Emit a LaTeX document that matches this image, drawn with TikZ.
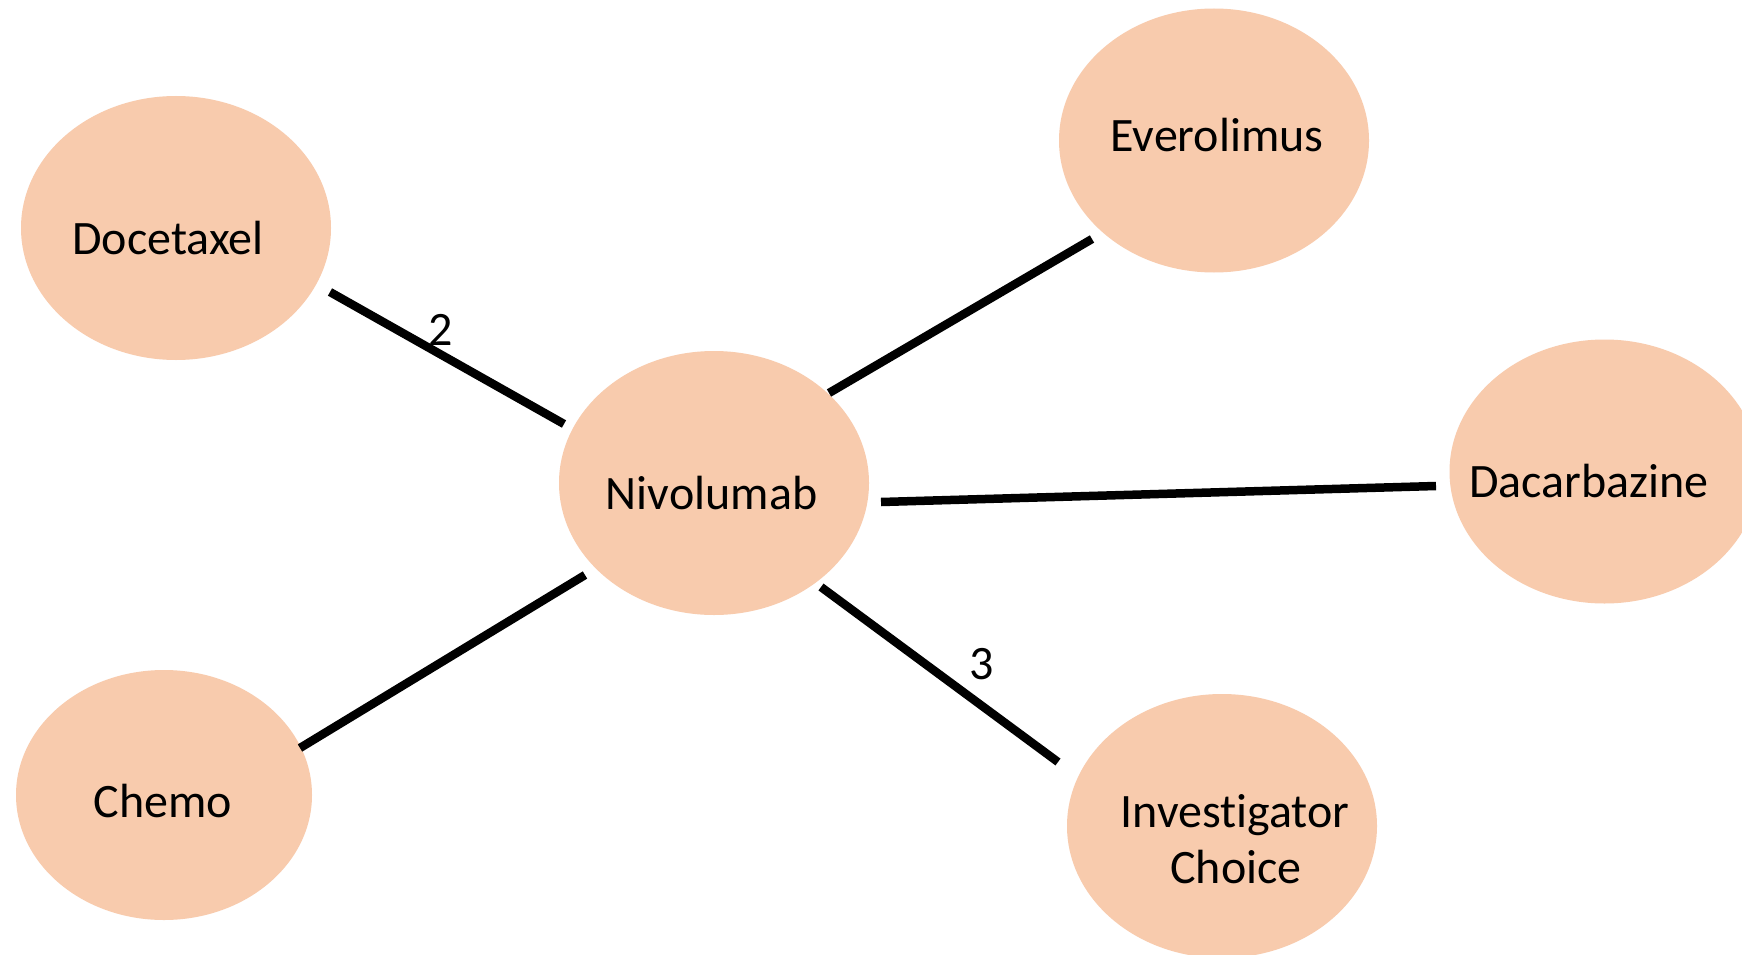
\documentclass[tikz,border=0pt]{standalone}
\usepackage{fontspec}
\setmainfont[Ligatures={NoCommon}]{Carlito}
\usetikzlibrary{shapes.geometric,calc}
\definecolor{peach}{HTML}{F8CBAD}
\tikzset{
  bubble/.style={ellipse, fill=peach, draw=none, inner sep=0pt, minimum width=310pt, minimum height=264pt},
  smallbubble/.style={bubble, minimum width=296pt, minimum height=250pt},
  txt/.style={anchor=base, inner sep=0pt, font=\fontsize{48}{57}\selectfont, text=black},
  conn/.style={line width=8.5pt, black}
}
\begin{document}
\begin{tikzpicture}[x=1pt,y=-1pt]
\useasboundingbox[fill=white] (0,0) rectangle (1742,955);
% ellipses
\node[bubble] (doc) at (176,228) {};
\node[bubble] (eve) at (1214,140.5) {};
\node[bubble] (niv) at (714,483) {};
\node[bubble] (dac) at (1604.5,471.5) {};
\node[smallbubble] (che) at (164,795) {};
\node[bubble] (inv) at (1222,826) {};
% texts
\node[txt] (tdoc) at (168,254.5) {Docetaxel};
\node[txt] (teve) at (1217,151.7) {Everolimus};
\node[txt] (tniv) at (711.6,509) {Nivolumab};
\node[txt] (tdac) at (1589,497) {Dacarbazine};
\node[txt] (tche) at (163,817) {Chemo};
\node[txt] (tinv1) at (1235,827) {Investigator};
\node[txt] (tinv2) at (1236,883) {Choice};
% connector end points
\coordinate (d1) at ($(doc.center)+(154,64)$);
\coordinate (n1) at ($(niv.center)+(-150,-59)$);
\coordinate (n2) at ($(niv.center)+(115,-90)$);
\coordinate (e1) at ($(eve.center)+(-122,98.5)$);
\coordinate (n3) at ($(niv.center)+(167,19)$);
\coordinate (a1) at ($(dac.center)+(-168.5,14.5)$);
\coordinate (n4) at ($(niv.center)+(-129,92)$);
\coordinate (c1) at ($(che.center)+(136,-47)$);
\coordinate (n5) at ($(niv.center)+(107,104)$);
\coordinate (i1) at ($(inv.center)+(-164,-64)$);
% connectors
\draw[conn] (d1) -- (n1);
\draw[conn] (n2) -- (e1);
\draw[conn] (n3) -- (a1);
\draw[conn] (n4) -- (c1);
\draw[conn] (n5) -- (i1);
% edge labels
\node[txt] (l2) at (441,345) {2};
\node[txt] (l3) at (982,679) {3};
\end{tikzpicture}
\end{document}
